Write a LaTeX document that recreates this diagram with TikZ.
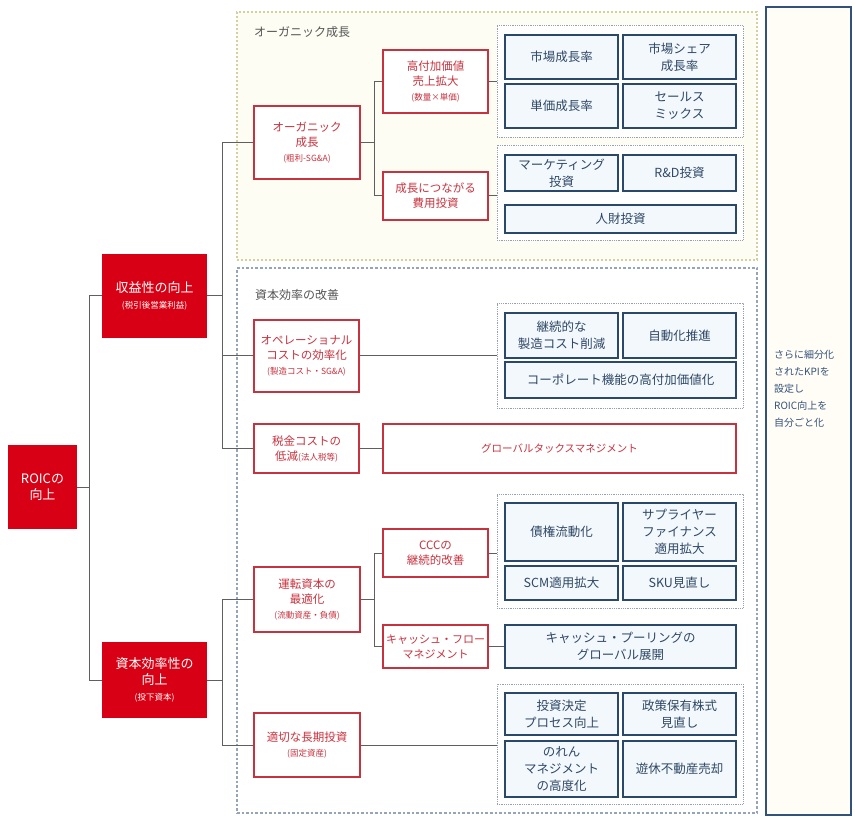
\documentclass[tikz,border=0pt]{standalone}
\usepackage{fontspec}
\setmainfont{Noto Sans CJK JP}
\definecolor{roicred}{RGB}{216,0,20}
\definecolor{leafred}{RGB}{200,50,62}
\definecolor{kpiblue}{RGB}{42,72,106}
\definecolor{kpitext}{RGB}{46,72,102}
\definecolor{kpifill}{RGB}{243,248,252}
\definecolor{groupgray}{RGB}{150,160,176}
\definecolor{orgline}{RGB}{212,207,160}
\definecolor{orgfill}{RGB}{253,253,244}
\definecolor{capline}{RGB}{150,164,184}
\definecolor{linegray}{RGB}{95,95,95}
\definecolor{noteblue}{RGB}{50,82,122}
\definecolor{notefill}{RGB}{255,253,246}
\definecolor{titlegray}{RGB}{85,85,85}
\newcommand{\smallnote}[1]{{\fontsize{8.5}{12}\selectfont #1}}
\begin{document}
\begin{tikzpicture}[
  x=1pt, y=-1pt,
  redbox/.style={rectangle, fill=roicred, text=white, align=center, inner sep=0pt, font=\fontsize{13}{16}\selectfont},
  leafbox/.style={rectangle, draw=leafred, line width=1.4pt, fill=white, text=leafred, align=center, inner sep=0pt, font=\fontsize{11.5}{15}\selectfont},
  kpibox/.style={rectangle, draw=kpiblue, line width=1.4pt, fill=kpifill, text=kpitext, align=center, inner sep=0pt, minimum width=113pt, font=\fontsize{12.5}{17}\selectfont},
  widebox/.style={kpibox, minimum width=231pt},
  groupbox/.style={rectangle, draw=groupgray, densely dotted, line width=0.8pt, fill=white, minimum width=246pt, inner sep=0pt},
  areatitle/.style={anchor=west, text=titlegray, inner sep=0pt, font=\fontsize{12}{14}\selectfont},
  link/.style={draw=linegray, line width=1pt}
]
\useasboundingbox (0,0) rectangle (855,821);

% areas
\node[rectangle, draw=orgline, dotted, line width=2pt, fill=orgfill, minimum width=520pt, minimum height=248pt] (orgarea) at (497,136) {};
\node[rectangle, draw=capline, dotted, line width=2.6pt, fill=white, minimum width=520pt, minimum height=545pt] (caparea) at (497,540.5) {};
\node[areatitle] (orgtitle) at (254,32) {オーガニック成長};
\node[areatitle] (captitle) at (255,295) {資本効率の改善};

% KPI groups
\node[groupbox, minimum height=112pt] (g1) at (620,81) {};
\node[groupbox, minimum height=95pt] (g2) at (620,192.5) {};
\node[groupbox, minimum height=105pt] (g3) at (620,355.5) {};
\node[groupbox, minimum height=114pt] (g4) at (620,551) {};
\node[groupbox, minimum height=120pt] (g5) at (620,744) {};

% tree
\node[redbox, minimum width=69pt, minimum height=84pt] (roic) at (42.5,487) {ROICの\\向上};
\node[redbox, minimum width=105pt, minimum height=84pt] (prof) at (154.5,296) {収益性の向上\\\smallnote{(税引後営業利益)}};
\node[redbox, minimum width=105pt, minimum height=76pt] (cap) at (154.5,680) {資本効率性の\\向上\\\smallnote{(投下資本)}};

\node[leafbox, minimum width=106pt, minimum height=73pt] (org) at (307,142.5) {オーガニック\\成長\\\smallnote{(粗利-SG\&A)}};
\node[leafbox, minimum width=105pt, minimum height=63pt] (hva) at (435.5,81.5) {高付加価値\\売上拡大\\\smallnote{(数量×単価)}};
\node[leafbox, minimum width=105pt, minimum height=48pt] (ginv) at (435.5,196) {成長につながる\\費用投資};
\node[leafbox, minimum width=105pt, minimum height=72pt] (opc) at (306.5,356) {オペレーショナル\\コストの効率化\\\smallnote{(製造コスト・SG\&A)}};
\node[leafbox, minimum width=105pt, minimum height=49pt] (tax) at (306.5,448.5) {税金コストの\\低減\smallnote{(法人税等)}};
\node[leafbox, minimum width=353pt, minimum height=49pt, font=\fontsize{10.5}{14}\selectfont] (gtm) at (559.5,448.5) {グローバルタックスマネジメント};
\node[leafbox, minimum width=106pt, minimum height=65pt] (wc) at (307,599.5) {運転資本の\\最適化\\\smallnote{(流動資産・負債)}};
\node[leafbox, minimum width=105pt, minimum height=48pt] (ccc) at (435.5,553) {CCCの\\継続的改善};
\node[leafbox, minimum width=105pt, minimum height=43pt, font=\fontsize{11}{15}\selectfont] (cfm) at (435.5,646.5) {キャッシュ・フロー\\マネジメント};
\node[leafbox, minimum width=106pt, minimum height=64pt] (lti) at (307,745) {適切な長期投資\\\smallnote{(固定資産)}};

% KPIs
\node[kpibox, minimum height=44pt] (mgr) at (561.5,57) {市場成長率};
\node[kpibox, minimum height=44pt] (msg) at (679.5,57) {市場シェア\\成長率};
\node[kpibox, minimum height=44pt] (upg) at (561.5,106) {単価成長率};
\node[kpibox, minimum height=44pt] (smx) at (679.5,106) {セールス\\ミックス};
\node[kpibox, minimum height=36pt] (mkt) at (561.5,173) {マーケティング\\投資};
\node[kpibox, minimum height=36pt] (rnd) at (679.5,173) {R\&D投資};
\node[widebox, minimum height=28pt] (hrinv) at (620.5,219) {人財投資};
\node[kpibox, minimum height=45pt] (mfg) at (561.5,335.5) {継続的な\\製造コスト削減};
\node[kpibox, minimum height=45pt] (auto) at (679.5,335.5) {自動化推進};
\node[widebox, minimum height=36pt] (corp) at (620.5,380) {コーポレート機能の高付加価値化};
\node[kpibox, minimum height=58pt] (arl) at (561.5,532) {債権流動化};
\node[kpibox, minimum height=58pt] (sfn) at (679.5,532) {サプライヤー\\ファイナンス\\適用拡大};
\node[kpibox, minimum height=34pt] (scm) at (561.5,583) {SCM適用拡大};
\node[kpibox, minimum height=34pt] (sku) at (679.5,583) {SKU見直し};
\node[widebox, minimum height=43pt] (cpl) at (620.5,646.5) {キャッシュ・プーリングの\\グローバル展開};
\node[kpibox, minimum height=42pt] (idp) at (561.5,714) {投資決定\\プロセス向上};
\node[kpibox, minimum height=42pt] (cps) at (679.5,714) {政策保有株式\\見直し};
\node[kpibox, minimum height=56pt] (gwm) at (561.5,769) {のれん\\マネジメント\\の高度化};
\node[kpibox, minimum height=56pt] (ire) at (679.5,769) {遊休不動産売却};

% right note
\node[rectangle, draw=noteblue, line width=1.4pt, fill=notefill, minimum width=85pt, minimum height=808pt] (kpinote) at (808.5,411) {};
\node[anchor=west, align=left, inner sep=0pt, text=noteblue, font=\fontsize{10}{17}\selectfont] (notetext) at (774,389) {さらに細分化\\されたKPIを\\設定し\\ROIC向上を\\自分ごと化};

% connectors
\draw[link] (roic.east) -- ++(12,0) |- (prof.west);
\draw[link] (roic.east) -- ++(12,0) |- (cap.west);
\draw[link] (prof.east) -- ++(15,0) |- (org.west);
\draw[link] (prof.east) -- ++(15,0) |- (opc.west);
\draw[link] (prof.east) -- ++(15,0) |- (tax.west);
\draw[link] (cap.east) -- ++(15,0) |- (wc.west);
\draw[link] (cap.east) -- ++(15,0) |- (lti.west);
\draw[link] (org.east) -- ++(14,0) |- (hva.west);
\draw[link] (org.east) -- ++(14,0) |- (ginv.west);
\draw[link] (wc.east) -- ++(14,0) |- (ccc.west);
\draw[link] (wc.east) -- ++(14,0) |- (cfm.west);
\foreach \from/\to in {hva/g1, ginv/g2, opc/g3, tax/gtm, ccc/g4, cfm/cpl, lti/g5}
  \draw[link] (\from.east) -- (\from.east -| \to.west);
\end{tikzpicture}
\end{document}
